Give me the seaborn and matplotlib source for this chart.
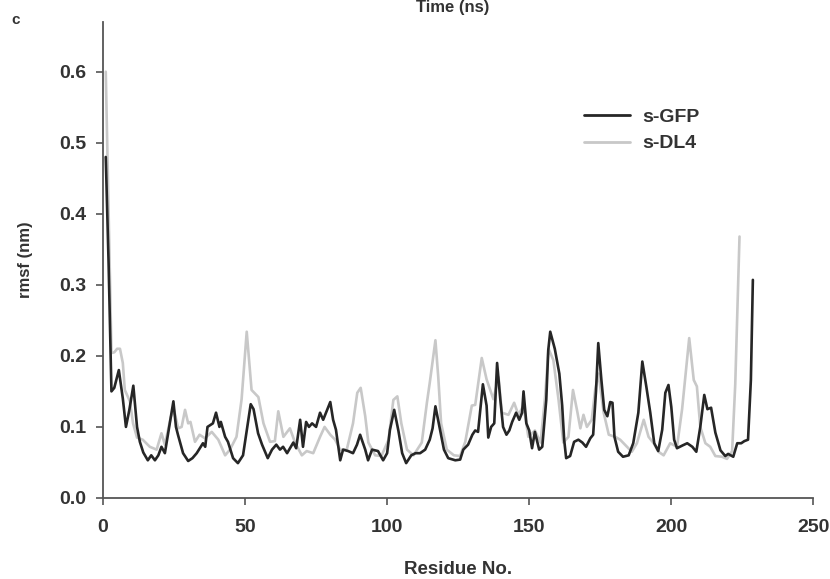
import matplotlib
matplotlib.use('Agg')
import matplotlib.pyplot as plt
import pandas as pd
import seaborn as sns

# s-GFP trace (residue, rmsf in nm)
gfp_res = [1, 2, 3, 4, 5.6, 7, 8.1, 9.3, 10.7, 12, 13, 14.2, 15.8, 17, 18.3, 19.5,
           20.6, 21.8, 22.9, 24.8, 25.7, 26.4, 28.2, 30, 31.5, 33, 35.2, 36, 36.8,
           38.7, 39.8, 41, 41.5, 43, 44, 45.8, 47.5, 49.3, 52, 53, 54.6, 56, 58,
           59.5, 61, 62.3, 63.4, 64.8, 67, 68, 69.4, 70.4, 71.5, 72.5, 73.6, 75,
           76.4, 77.5, 80, 81, 82, 83.5, 84.5, 86.3, 88, 89.4, 90.5, 92.3, 93.3,
           94.7, 96.8, 98.6, 100, 101, 102.5, 104, 105.3, 106.7, 108.5, 110, 111.6,
           113.4, 115, 116, 117, 118.7, 120, 121.5, 124, 125.7, 126.8, 128.5, 130,
           131, 132, 133.7, 135, 135.6, 136.6, 137.7, 138.7, 139.8, 140.8, 142, 143,
           144, 145.4, 146.5, 147.5, 148, 149, 150, 151, 152, 153.5, 154.6, 156,
           156.7, 157.4, 159, 160.6, 161.6, 162.3, 163, 164.4, 165.8, 167.3, 168.7,
           170, 171.5, 172.5, 173.5, 174.3, 175.4, 176.4, 177.5, 178.5, 179.3, 180,
           181.3, 183, 185, 186.6, 188.4, 189.8, 191.2, 192.6, 194, 195.4, 196.8,
           197.9, 199, 200, 201, 202, 204, 205.6, 207.4, 208.8, 210.2, 211.6, 212.7,
           214, 215.5, 217.3, 219, 220, 221.8, 223.2, 224.6, 225.7, 227, 228, 228.7]
gfp_rmsf = [0.48, 0.33, 0.15, 0.155, 0.18, 0.14, 0.10, 0.124, 0.158, 0.10, 0.079,
            0.064, 0.053, 0.06, 0.053, 0.06, 0.072, 0.063, 0.09, 0.136, 0.10, 0.089,
            0.063, 0.052, 0.056, 0.063, 0.077, 0.072, 0.10, 0.105, 0.12, 0.10, 0.107,
            0.086, 0.079, 0.056, 0.049, 0.06, 0.132, 0.125, 0.091, 0.075, 0.056,
            0.068, 0.075, 0.068, 0.072, 0.063, 0.078, 0.070, 0.11, 0.072, 0.107,
            0.10, 0.105, 0.10, 0.12, 0.11, 0.135, 0.11, 0.096, 0.053, 0.068, 0.066,
            0.063, 0.075, 0.089, 0.068, 0.053, 0.068, 0.066, 0.053, 0.063, 0.096,
            0.124, 0.094, 0.063, 0.049, 0.06, 0.063, 0.063, 0.068, 0.082, 0.098,
            0.129, 0.094, 0.068, 0.056, 0.053, 0.054, 0.068, 0.075, 0.089, 0.095,
            0.093, 0.16, 0.13, 0.085, 0.10, 0.105, 0.19, 0.14, 0.10, 0.089, 0.095,
            0.107, 0.12, 0.11, 0.12, 0.15, 0.105, 0.095, 0.07, 0.093, 0.068, 0.072,
            0.138, 0.208, 0.234, 0.21, 0.175, 0.13, 0.082, 0.056, 0.059, 0.079,
            0.082, 0.078, 0.072, 0.084, 0.089, 0.15, 0.218, 0.166, 0.124, 0.115,
            0.135, 0.134, 0.086, 0.065, 0.058, 0.06, 0.077, 0.12, 0.192, 0.157, 0.12,
            0.077, 0.066, 0.096, 0.148, 0.159, 0.128, 0.082, 0.07, 0.074, 0.077,
            0.072, 0.065, 0.10, 0.145, 0.125, 0.127, 0.092, 0.067, 0.059, 0.062,
            0.058, 0.077, 0.077, 0.08, 0.082, 0.166, 0.307]

# s-DL4 trace
dl4_res = [1, 2, 3, 4, 5, 6, 7, 7.7, 9.5, 10.6, 12, 14, 16.5, 18.9, 20.6, 21.8,
           23.9, 25, 26.5, 27.7, 28.9, 30, 30.8, 32.4, 34, 35.9, 38.3, 40.6, 43,
           44.7, 47, 48.8, 50.6, 52.3, 54.7, 56.5, 58.8, 60.5, 61.7, 63.5, 65.8,
           67.6, 70, 71.7, 74, 76.4, 78, 80, 81.7, 83.5, 85.8, 88, 89.5, 90.7, 92.3,
           93.4, 95.8, 98, 100.5, 102.2, 103.6, 105, 107, 109.3, 112.2, 114, 115,
           117, 118, 119, 121, 123.5, 125.7, 127.5, 129.8, 131, 133.3, 135, 137.4,
           139.2, 140.4, 142.7, 144.7, 146.2, 148, 149.7, 152, 154, 155.6, 156.8,
           158.5, 160.3, 162, 163.8, 165.4, 166.8, 168, 169.1, 170.3, 172, 173.2,
           174.4, 176.2, 178, 180.3, 182, 184.4, 186.1, 187.9, 190.3, 192, 193.8,
           195.5, 197.3, 199.6, 202, 203.8, 206.3, 207.9, 209, 210.2, 212, 213.7,
           215.5, 217.8, 219.6, 221.4, 222.5, 224]
dl4_rmsf = [0.60, 0.40, 0.204, 0.205, 0.21, 0.21, 0.19, 0.152, 0.136, 0.105, 0.085,
            0.082, 0.072, 0.068, 0.091, 0.075, 0.114, 0.124, 0.098, 0.10, 0.124,
            0.105, 0.107, 0.079, 0.089, 0.084, 0.093, 0.082, 0.06, 0.068, 0.086,
            0.139, 0.234, 0.152, 0.142, 0.105, 0.079, 0.08, 0.122, 0.086, 0.098,
            0.078, 0.06, 0.066, 0.063, 0.086, 0.10, 0.089, 0.082, 0.068, 0.068,
            0.105, 0.148, 0.155, 0.115, 0.078, 0.06, 0.059, 0.082, 0.138, 0.143,
            0.105, 0.068, 0.06, 0.078, 0.134, 0.162, 0.222, 0.17, 0.105, 0.068,
            0.06, 0.059, 0.079, 0.13, 0.131, 0.197, 0.167, 0.139, 0.17, 0.12, 0.117,
            0.134, 0.117, 0.13, 0.086, 0.095, 0.078, 0.143, 0.21, 0.194, 0.139,
            0.078, 0.086, 0.152, 0.124, 0.098, 0.117, 0.10, 0.11, 0.152, 0.175,
            0.12, 0.089, 0.086, 0.082, 0.072, 0.065, 0.077, 0.11, 0.086, 0.077,
            0.065, 0.06, 0.077, 0.072, 0.125, 0.225, 0.166, 0.157, 0.10, 0.077,
            0.072, 0.059, 0.058, 0.055, 0.066, 0.16, 0.368]

series_names = ['s-GFP', 's-DL4']
series_colors = {'s-GFP': '#262626', 's-DL4': '#c8c8c8'}
x_ticks = [0, 50, 100, 150, 200, 250]
y_ticks = [0.0, 0.1, 0.2, 0.3, 0.4, 0.5, 0.6]


def build_frame():
    gfp = pd.DataFrame({'residue': gfp_res, 'rmsf': gfp_rmsf, 'protein': 's-GFP'})
    dl4 = pd.DataFrame({'residue': dl4_res, 'rmsf': dl4_rmsf, 'protein': 's-DL4'})
    return pd.concat([dl4, gfp], ignore_index=True)


def plot_rmsf(df):
    sns.set_style('ticks')
    plt.rcParams['font.family'] = ['Liberation Sans', 'DejaVu Sans']
    plt.rcParams['font.weight'] = 'bold'

    fig = plt.figure(figsize=(8.3, 5.79), dpi=100)
    ax = fig.add_axes([0.124, 0.140, 0.856, 0.822])

    sns.lineplot(data=df, x='residue', y='rmsf', hue='protein', hue_order=['s-DL4', 's-GFP'],
                 palette=series_colors, estimator=None, sort=False, linewidth=1.9, ax=ax)

    ax.set_xlim(0, 250)
    ax.set_ylim(0, 0.67)
    ax.set_xticks(x_ticks)
    ax.set_yticks(y_ticks)
    ax.set_yticklabels([f'{v:.1f}' for v in y_ticks])
    sns.despine(ax=ax)
    for side in ['left', 'bottom']:
        ax.spines[side].set_color('#555555')
        ax.spines[side].set_linewidth(1.3)
    ax.tick_params(axis='both', direction='out', length=5, width=1.2, color='#555555',
                   labelsize=14, labelcolor='#333333', pad=7)
    ax.tick_params(axis='x', pad=10)
    for lbl in ax.get_xticklabels() + ax.get_yticklabels():
        lbl.set_fontweight('bold')

    ax.set_xlabel('Residue No.', fontsize=13.5, fontweight='bold', color='#333333', labelpad=18)
    ax.set_ylabel('rmsf (nm)', fontsize=12, fontweight='bold', color='#333333', labelpad=19)

    handles, labels = ax.get_legend_handles_labels()
    order = [labels.index(n) for n in series_names]
    leg = ax.legend([handles[i] for i in order], series_names, frameon=False,
                    loc='upper left', bbox_to_anchor=(0.652, 0.855), handlelength=2.4,
                    handletextpad=0.6, labelspacing=0.45, fontsize=14)
    for t in leg.get_texts():
        t.set_color('#333333')
        t.set_fontweight('bold')
    for line in leg.get_lines():
        line.set_linewidth(2.0)

    fig.text(0.014, 0.958, 'c', fontsize=11, fontweight='bold', color='#333333')
    fig.text(0.546, 0.979, 'Time (ns)', fontsize=12, fontweight='bold', color='#333333',
             ha='center', va='baseline')

    fig.savefig('out.png', dpi=100, facecolor='white')


if __name__ == '__main__':
    plot_rmsf(build_frame())
